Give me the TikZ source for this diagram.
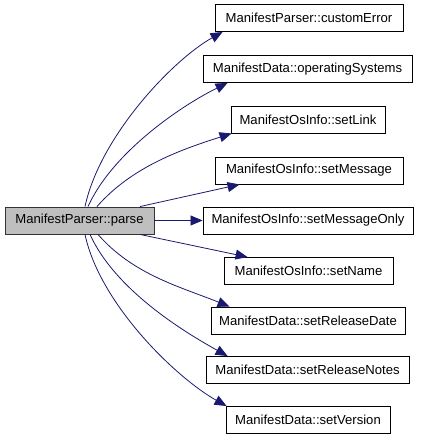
\documentclass[tikz,border=0pt]{standalone}
\usepackage{fontspec}
\setmainfont{Liberation Sans}
\usetikzlibrary{arrows.meta}
\definecolor{edgecol}{HTML}{191970}
\begin{document}
\begin{tikzpicture}[x=1pt,y=-1pt,
  fn/.style={draw=black,line width=0.9pt,fill=white,minimum height=27pt,inner sep=0pt,font=\fontsize{13.1}{15}\selectfont},
  src/.style={fn,fill=black!25,draw=black!80},
  call/.style={draw=edgecol,line width=0.8pt,-{Triangle[length=12pt,width=10pt]}}]
\useasboundingbox (0,0) rectangle (421,443);
\node[src,minimum width=149pt] (s) at (79.5,220.5) {ManifestParser::parse};
\node[fn,minimum width=188pt] (t1) at (309,18) {ManifestParser::customError};
\node[fn,minimum width=209pt] (t2) at (307.5,69) {ManifestData::operatingSystems};
\node[fn,minimum width=154pt] (t3) at (308,119.5) {ManifestOsInfo::setLink};
\node[fn,minimum width=188pt] (t4) at (309,170.5) {ManifestOsInfo::setMessage};
\node[fn,minimum width=210pt] (t5) at (308,220.5) {ManifestOsInfo::setMessageOnly};
\node[fn,minimum width=169pt] (t6) at (308.5,271) {ManifestOsInfo::setName};
\node[fn,minimum width=194pt] (t7) at (308,320.5) {ManifestData::setReleaseDate};
\node[fn,minimum width=203pt] (t8) at (307.5,370) {ManifestData::setReleaseNotes};
\node[fn,minimum width=164pt] (t9) at (308,420) {ManifestData::setVersion};
\draw[call] ([xshift=5.5pt]s.north) .. controls +(15,-70) and +(-50,28) .. ([xshift=8pt]t1.south west);
\draw[call] ([xshift=8.5pt]s.north) .. controls +(25,-55) and +(-45,22) .. ([xshift=25pt]t2.south west);
\draw[call] ([xshift=17.5pt]s.north) .. controls +(35,-40) and +(-50,16) .. ([xshift=1pt]t3.south west);
\draw[call] ([xshift=60.5pt]s.north) -- ([xshift=25pt]t4.south west);
\draw[call] (s.east) -- (t5.west);
\draw[call] ([xshift=60.5pt]s.south) -- ([xshift=24pt]t6.north west);
\draw[call] ([xshift=18.5pt]s.south) .. controls +(35,40) and +(-50,-20) .. ([xshift=19pt]t7.north west);
\draw[call] ([xshift=10.5pt]s.south) .. controls +(25,55) and +(-45,-25) .. ([xshift=22pt]t8.north west);
\draw[call] ([xshift=5.5pt]s.south) .. controls +(15,70) and +(-50,-28) .. ([xshift=1pt]t9.north west);
\end{tikzpicture}
\end{document}
